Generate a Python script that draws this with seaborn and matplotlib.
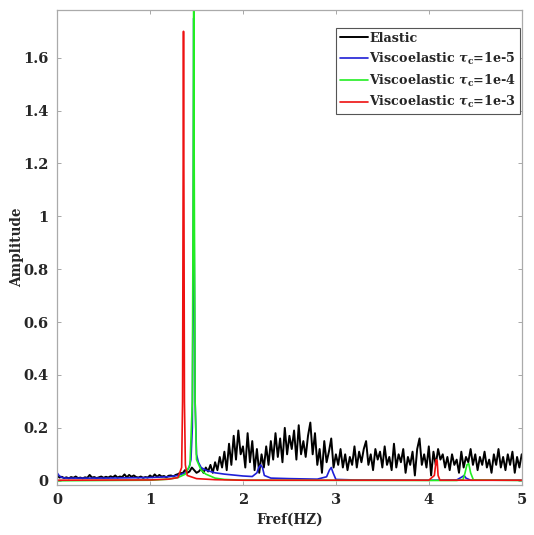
import numpy as np
import pandas as pd
import matplotlib
matplotlib.use("Agg")
import matplotlib.pyplot as plt
import seaborn as sns
from matplotlib.ticker import FormatStrFormatter

# elastic response, sampled every 0.025 Hz from 0 to 5
elastic_x = np.round(np.arange(0, 5.0001, 0.025), 3)
elastic_y = [
    0.02, 0.012, 0.015, 0.01, 0.013, 0.009, 0.014, 0.011, 0.016, 0.01, 0.012, 0.009, 0.013,
    0.011, 0.022, 0.012, 0.014, 0.01, 0.013, 0.016, 0.011, 0.015, 0.012, 0.017, 0.013,
    0.02, 0.012, 0.016, 0.014, 0.024, 0.013, 0.022, 0.015, 0.02, 0.014, 0.012, 0.016,
    0.011, 0.014, 0.012, 0.02, 0.013, 0.024, 0.015, 0.022, 0.016, 0.018, 0.013, 0.019,
    0.02, 0.016, 0.022, 0.025, 0.03, 0.028, 0.04, 0.03, 0.035, 0.05, 0.04, 0.03,
    0.035, 0.045, 0.03, 0.05, 0.035, 0.06, 0.03, 0.07, 0.04, 0.09, 0.05, 0.11,
    0.04, 0.14, 0.06, 0.17, 0.08, 0.19, 0.1, 0.13, 0.05, 0.18, 0.07, 0.15,
    0.04, 0.12, 0.03, 0.1, 0.05, 0.13, 0.06, 0.15, 0.08, 0.18, 0.09, 0.16,
    0.07, 0.2, 0.1, 0.17, 0.12, 0.19, 0.08, 0.21, 0.1, 0.15, 0.09, 0.17,
    0.22, 0.1, 0.18, 0.06, 0.12, 0.03, 0.15, 0.07, 0.11, 0.16, 0.05, 0.1,
    0.06, 0.12, 0.05, 0.1, 0.04, 0.09, 0.06, 0.13, 0.05, 0.11, 0.07, 0.12,
    0.15, 0.06, 0.1, 0.04, 0.12, 0.08, 0.11, 0.05, 0.13, 0.06, 0.09, 0.04,
    0.14, 0.05, 0.1, 0.07, 0.12, 0.03, 0.09, 0.06, 0.11, 0.02, 0.12, 0.16,
    0.06, 0.1, 0.05, 0.13, 0.02, 0.11, 0.06, 0.12, 0.08, 0.1, 0.05, 0.09,
    0.04, 0.1, 0.06, 0.08, 0.03, 0.11, 0.05, 0.09, 0.07, 0.12, 0.06, 0.1,
    0.04, 0.09, 0.06, 0.11, 0.05, 0.08, 0.03, 0.1, 0.06, 0.12, 0.05, 0.09,
    0.04, 0.1, 0.06, 0.11, 0.03, 0.09, 0.05, 0.1,
]

# viscoelastic tau_c = 1e-5
ve5_x = [0, 0.02, 0.05, 0.1, 0.5, 1.0, 1.2, 1.3, 1.38, 1.42, 1.44, 1.455, 1.465, 1.47,
         1.475, 1.485, 1.5, 1.52, 1.55, 1.6, 1.7, 1.8, 2.0, 2.1, 2.15, 2.17, 2.19, 2.21,
         2.23, 2.3, 2.5, 2.8, 2.9, 2.93, 2.95, 2.97, 3.0, 3.2, 4.0, 4.3, 4.36, 4.38, 4.4,
         4.45, 5.0]
ve5_y = [0.03, 0.02, 0.012, 0.01, 0.01, 0.012, 0.015, 0.02, 0.03, 0.05, 0.08, 0.2, 0.9,
         1.75, 0.9, 0.3, 0.1, 0.07, 0.05, 0.04, 0.03, 0.025, 0.018, 0.016, 0.03, 0.05,
         0.06, 0.05, 0.02, 0.01, 0.008, 0.006, 0.015, 0.04, 0.05, 0.03, 0.005, 0.003,
         0.002, 0.003, 0.015, 0.02, 0.01, 0.002, 0.002]

# viscoelastic tau_c = 1e-4
ve4_x = [0, 1.0, 1.2, 1.3, 1.38, 1.43, 1.455, 1.465, 1.47, 1.475, 1.485, 1.5, 1.55, 1.6,
         1.7, 1.8, 2.0, 4.3, 4.37, 4.39, 4.41, 4.43, 4.45, 4.48, 5.0]
ve4_y = [0.0, 0.002, 0.006, 0.012, 0.025, 0.06, 0.3, 1.2, 1.95, 1.2, 0.3, 0.08, 0.04,
         0.025, 0.01, 0.005, 0.002, 0.001, 0.005, 0.03, 0.06, 0.065, 0.03, 0.003, 0.001]

# viscoelastic tau_c = 1e-3
ve3_x = [0, 1.0, 1.2, 1.3, 1.34, 1.35, 1.355, 1.36, 1.365, 1.37, 1.38, 1.4, 1.5, 1.7,
         2.0, 4.0, 4.06, 4.08, 4.09, 4.1, 4.12, 5.0]
ve3_y = [0.002, 0.003, 0.006, 0.012, 0.05, 0.3, 1.0, 1.70, 1.0, 0.3, 0.06, 0.02, 0.008,
         0.004, 0.002, 0.002, 0.02, 0.08, 0.075, 0.02, 0.002, 0.002]

sns.set_theme(style="ticks")
plt.rcParams["font.family"] = ["DejaVu Serif"]
plt.rcParams["font.weight"] = "bold"
plt.rcParams["mathtext.fontset"] = "dejavuserif"

fig = plt.figure(figsize=(5.34, 5.35), dpi=100)
ax = fig.add_axes([0.107, 0.094, 0.870, 0.887])

sns.lineplot(x=elastic_x, y=elastic_y, color="black", lw=1.4, ax=ax, label="Elastic")
sns.lineplot(x=ve5_x, y=ve5_y, color="#1f1fd6", lw=1.2, ax=ax,
             label=r"Viscoelastic $\tau_\mathbf{c}$=1e-5")
sns.lineplot(x=ve4_x, y=ve4_y, color="#22ee22", lw=1.2, ax=ax,
             label=r"Viscoelastic $\tau_\mathbf{c}$=1e-4")
sns.lineplot(x=ve3_x, y=ve3_y, color="#ee1111", lw=1.2, ax=ax,
             label=r"Viscoelastic $\tau_\mathbf{c}$=1e-3")

ax.set_xlim(0, 5)
ax.set_ylim(-0.015, 1.78)
ax.set_xticks([0, 1, 2, 3, 4, 5])
ax.set_yticks([0, 0.2, 0.4, 0.6, 0.8, 1, 1.2, 1.4, 1.6])
ax.yaxis.set_major_formatter(FormatStrFormatter("%g"))
ax.tick_params(direction="in", length=3, width=0.6, color="#999999",
               top=True, right=True, labelsize=10.5, pad=6, labelcolor="#262626")
for s in ax.spines.values():
    s.set_color("#aaaaaa")
    s.set_linewidth(0.9)

ax.set_xlabel("Fref(HZ)", fontsize=9.8, fontweight="bold", color="#262626", labelpad=4)
ax.set_ylabel("Amplitude", fontsize=9.8, fontweight="bold", color="#262626")
ax.yaxis.set_label_coords(-0.071, 0.5)

leg = ax.legend(loc="upper right", bbox_to_anchor=(1.0, 0.965), borderaxespad=0.1,
                fancybox=False, framealpha=1, edgecolor="#555555", fontsize=9.2,
                handlelength=2.2, handletextpad=0.1, labelspacing=0.45, borderpad=0.3)
leg.get_frame().set_linewidth(0.8)
for t in leg.get_texts():
    t.set_fontweight("bold")

fig.savefig("out.png", dpi=100)
